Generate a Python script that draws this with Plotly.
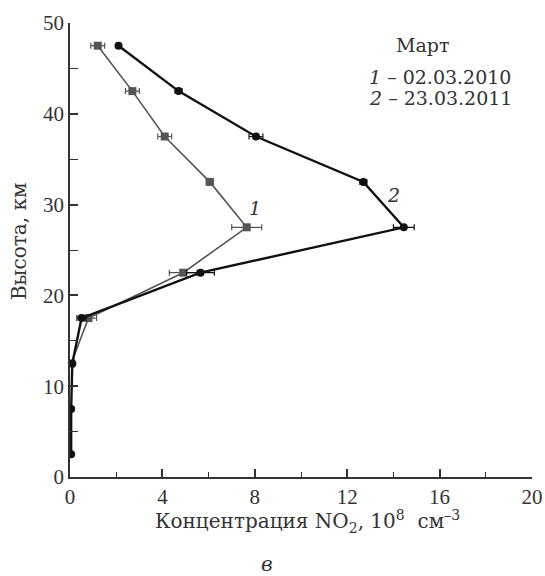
import plotly.graph_objects as go

heights1 = [12.5, 17.5, 22.5, 27.5, 32.5, 37.5, 42.5, 47.5]
conc1 = [0.05, 0.8, 4.9, 7.65, 6.05, 4.1, 2.7, 1.2]
err1 = [0.05, 0.35, 0.6, 0.65, 0.15, 0.3, 0.3, 0.3]

heights2 = [2.5, 7.5, 12.5, 17.5, 22.5, 27.5, 32.5, 37.5, 42.5, 47.5]
conc2 = [0.05, 0.05, 0.1, 0.5, 5.65, 14.45, 12.7, 8.05, 4.7, 2.1]
err2 = [0.0, 0.0, 0.05, 0.2, 0.6, 0.45, 0.15, 0.3, 0.15, 0.1]

xticks = [0, 4, 8, 12, 16, 20]
yticks = [0, 10, 20, 30, 40, 50]

FONT = "DejaVu Serif"
TFONT = "Liberation Serif"
COL = "#333333"

fig = go.Figure()
fig.add_trace(go.Scatter(
    x=conc1, y=heights1, mode="lines+markers",
    line=dict(color="#555555", width=1.6),
    marker=dict(symbol="square", size=8, color="#555555"),
    error_x=dict(type="data", array=err1, color="#555555", thickness=1.2, width=3),
    showlegend=False))
fig.add_trace(go.Scatter(
    x=conc2, y=heights2, mode="lines+markers",
    line=dict(color="#111111", width=2.4),
    marker=dict(symbol="circle", size=8, color="#111111"),
    error_x=dict(type="data", array=err2, color="#111111", thickness=1.2, width=3),
    showlegend=False))

axis_common = dict(
    showgrid=False, zeroline=False, showline=True, linecolor=COL, linewidth=1.5,
    ticks="inside", ticklen=8, tickwidth=1.5, tickcolor=COL,
    tickfont=dict(family=TFONT, size=21, color=COL),
    mirror=False, automargin=False,
)
fig.update_xaxes(range=[0, 20], tickvals=xticks,
                 minor=dict(dtick=2, ticks="inside", ticklen=5, tickwidth=1.2, tickcolor=COL),
                 **axis_common)
fig.update_yaxes(range=[0, 50], tickvals=yticks,
                 minor=dict(dtick=5, ticks="inside", ticklen=8, tickwidth=1.2, tickcolor=COL),
                 **axis_common)

title_font = dict(family=FONT, size=20, color=COL)
fig.add_annotation(x=0.513, y=-0.099, xref="paper", yref="paper", xanchor="center", yanchor="middle",
                   text="Концентрация NO<sub>2</sub>, 10<sup>8</sup>  см<sup>–3</sup>",
                   showarrow=False, font=title_font)
fig.add_annotation(x=-0.110, y=0.52, xref="paper", yref="paper", xanchor="center", yanchor="middle",
                   text="Высота, км", textangle=-90, showarrow=False, font=title_font)

ann_font = dict(family=FONT, size=19, color=COL)
fig.add_annotation(x=8.0, y=29.6, xref="x", yref="y", text="<i>1</i>", showarrow=False, font=ann_font)
fig.add_annotation(x=14.0, y=31.1, xref="x", yref="y", text="<i>2</i>", showarrow=False, font=ann_font)
fig.add_annotation(x=0.762, y=0.952, xref="paper", yref="paper", xanchor="center", yanchor="middle",
                   text="Март", showarrow=False, font=ann_font)
fig.add_annotation(x=0.643, y=0.881, xref="paper", yref="paper", xanchor="left", yanchor="middle",
                   text="<i>1</i> – 02.03.2010", showarrow=False, font=ann_font)
fig.add_annotation(x=0.643, y=0.835, xref="paper", yref="paper", xanchor="left", yanchor="middle",
                   text="<i>2</i> – 23.03.2011", showarrow=False, font=ann_font)
fig.add_annotation(x=0.426, y=-0.192, xref="paper", yref="paper", yanchor="middle", text="<i>в</i>",
                   showarrow=False, font=dict(family=FONT, size=20, color=COL))

fig.update_layout(
    width=545, height=576,
    margin=dict(l=70, r=13, t=23, b=99),
    plot_bgcolor="white", paper_bgcolor="white",
)

fig.write_html("out.html", config={"displayModeBar": False},
               post_script="document.body.style.margin='0';document.body.style.overflow='hidden';")
